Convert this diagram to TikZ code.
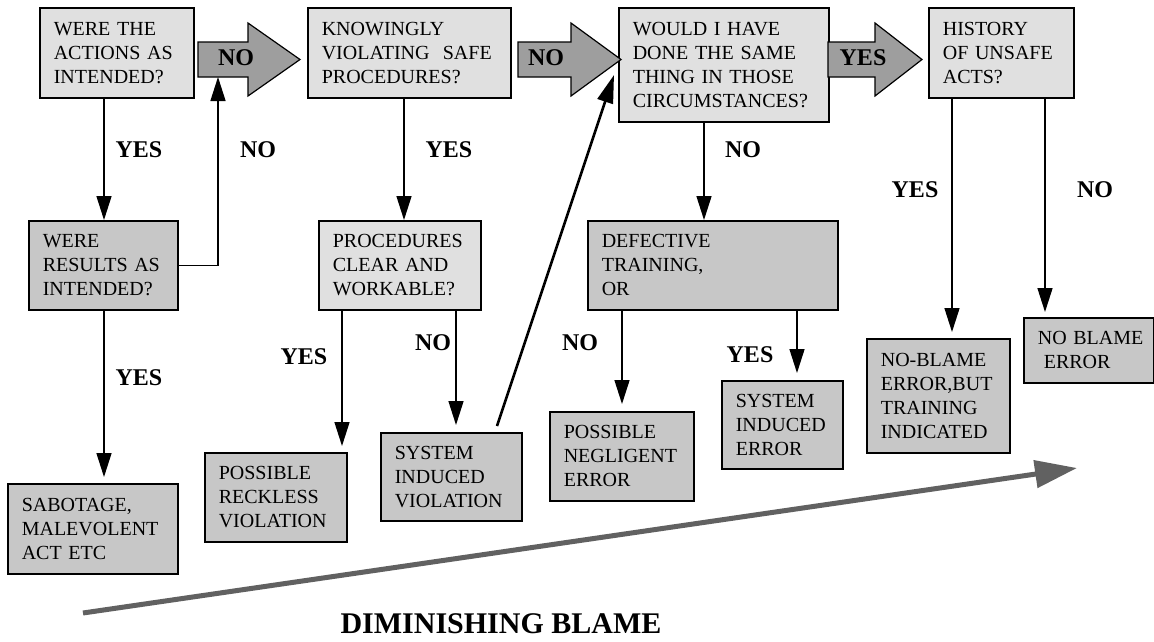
\documentclass[tikz,border=0pt]{standalone}
\usepackage{fontspec}
\setmainfont{Liberation Serif}
\usetikzlibrary{arrows.meta}
\definecolor{lightfill}{gray}{0.88}
\definecolor{darkfill}{gray}{0.78}
\definecolor{fatfill}{gray}{0.62}
\definecolor{blamecol}{gray}{0.38}
\tikzset{
  box/.style={draw, line width=1.6pt, anchor=north west, align=left, inner xsep=14pt, inner ysep=0pt, font=\fontsize{20}{24}\selectfont},
  lightbox/.style={box, fill=lightfill},
  darkbox/.style={box, fill=darkfill},
  conn/.style={line width=1.5pt, -{Triangle[length=24pt,width=15pt]}},
  lbl/.style={font=\bfseries\fontsize{24}{28}\selectfont, anchor=base, inner sep=0pt},
  fatarrow/.style={draw, line width=1.2pt, fill=fatfill},
  diagconn/.style={line width=2.6pt, -{Triangle[length=28pt,width=16pt]}},
  blamearrow/.style={line width=5pt, blamecol, -{Triangle[length=42pt,width=27pt]}},
}
\begin{document}
\begin{tikzpicture}[x=1pt,y=-1pt]
\useasboundingbox (0,0) rectangle (1154,641);
\fill[white] (0,0) rectangle (1154,641);

% top row
\node[lightbox, minimum width=154pt, minimum height=90pt, text width=126pt] (b1) at (39,7) {WERE~THE\\ACTIONS~AS\\INTENDED?};
\node[lightbox, minimum width=203pt, minimum height=90pt, text width=175pt] (b2) at (307,7) {KNOWINGLY\\VIOLATING~~SAFE\\PROCEDURES?};
\node[lightbox, minimum width=210pt, minimum height=114pt, text width=182pt] (b3) at (618,7) {WOULD~I~HAVE\\DONE~THE~SAME\\THING~IN~THOSE\\CIRCUMSTANCES?};
\node[lightbox, minimum width=145pt, minimum height=90pt, text width=117pt] (b4) at (928,7) {HISTORY\\OF~UNSAFE\\ACTS?};

% second row
\node[darkbox, minimum width=149pt, minimum height=89pt, text width=121pt] (b5) at (28,220) {WERE\\RESULTS~AS\\INTENDED?};
\node[lightbox, minimum width=162pt, minimum height=89pt, text width=134pt] (b6) at (318,220) {PROCEDURES\\CLEAR~AND\\WORKABLE?};
\node[darkbox, minimum width=250pt, minimum height=89pt, text width=222pt] (b7) at (587,220) {DEFECTIVE\\TRAINING,\\OR};

% outcomes
\node[darkbox, minimum width=170pt, minimum height=90pt, text width=142pt] (b8) at (7,483) {SABOTAGE,\\MALEVOLENT\\ACT~ETC};
\node[darkbox, minimum width=142pt, minimum height=89pt, text width=114pt] (b9) at (204,452) {POSSIBLE\\RECKLESS\\VIOLATION};
\node[darkbox, minimum width=141pt, minimum height=88pt, text width=113pt] (b10) at (380,432) {SYSTEM\\INDUCED\\VIOLATION};
\node[darkbox, minimum width=144pt, minimum height=89pt, text width=116pt] (b11) at (549,411) {POSSIBLE\\NEGLIGENT\\ERROR};
\node[darkbox, minimum width=121pt, minimum height=88pt, text width=93pt] (b12) at (721,380) {SYSTEM\\INDUCED\\ERROR};
\node[darkbox, minimum width=143pt, minimum height=114pt, text width=115pt] (b13) at (866,338) {NO-BLAME\\ERROR,BUT\\TRAINING\\INDICATED};
\node[darkbox, minimum width=130pt, minimum height=65pt, text width=102pt] (b14) at (1023,317) {NO~BLAME\\\hspace*{6pt}ERROR};

% fat arrows
\draw[fatarrow] (198,42) -- (248,42) -- (248,23) -- (300,59.5) -- (248,96) -- (248,77) -- (198,77) -- cycle;
\coordinate (na1) at (218,77);
\node[lbl] (fl1) at (236,65) {NO};
\draw[fatarrow] (518,42) -- (571,42) -- (571,23) -- (621,59.5) -- (571,96) -- (571,77) -- (518,77) -- cycle;
\node[lbl] (fl2) at (546,65) {NO};
\draw[fatarrow] (828,42) -- (875,42) -- (875,23) -- (922,59.5) -- (875,96) -- (875,77) -- (828,77) -- cycle;
\node[lbl] (fl3) at (863,65) {YES};

% connectors
\draw[conn] ([xshift=65pt]b1.south west) -- ([xshift=76pt]b5.north west);
\node[lbl] (l1) at (139,157) {YES};
\draw[conn] (b5.east) -| (na1);
\node[lbl] (l2) at (258,157) {NO};
\draw[conn, shorten >=6pt] ([xshift=76pt]b5.south west) -- ([xshift=97pt]b8.north west);
\node[lbl] (l3) at (139,385) {YES};
\draw[conn] ([xshift=97pt]b2.south west) -- ([xshift=86pt]b6.north west);
\node[lbl] (l4) at (449,157) {YES};
\draw[conn, shorten >=6pt] ([xshift=24pt]b6.south west) -- ([xshift=138pt]b9.north west);
\node[lbl] (l5) at (304,364) {YES};
\draw[conn, shorten >=7pt] ([xshift=138pt]b6.south west) -- ([xshift=76pt]b10.north west);
\node[lbl] (l6) at (433,350) {NO};
\draw[diagconn] ([xshift=117pt,yshift=6pt]b10.north west) -- ([xshift=-4pt,yshift=-68pt]b3.north west);
\draw[conn] ([xshift=86pt]b3.south west) -- ([xshift=117pt]b7.north west);
\node[lbl] (l7) at (743,157) {NO};
\draw[conn, shorten >=7pt] ([xshift=35pt]b7.south west) -- ([xshift=73pt]b11.north west);
\node[lbl] (l8) at (580,350) {NO};
\draw[conn, shorten >=7pt] ([xshift=210pt]b7.south west) -- ([xshift=76pt]b12.north west);
\node[lbl] (l9) at (750,362) {YES};
\draw[conn, shorten >=6pt] ([xshift=24pt]b4.south west) -- ([xshift=86pt]b13.north west);
\node[lbl] (l10) at (915,197) {YES};
\draw[conn, shorten >=5pt] ([xshift=117pt]b4.south west) -- ([xshift=22pt]b14.north west);
\node[lbl] (l11) at (1095,197) {NO};

% diminishing blame
\coordinate (g0) at (83,613);
\coordinate (g1) at (1077,468);
\draw[blamearrow] (g0) -- (g1);
\node[font=\bfseries\fontsize{30}{34}\selectfont, anchor=base, inner sep=0pt] (dim) at (501,633) {DIMINISHING BLAME};
\end{tikzpicture}
\end{document}
